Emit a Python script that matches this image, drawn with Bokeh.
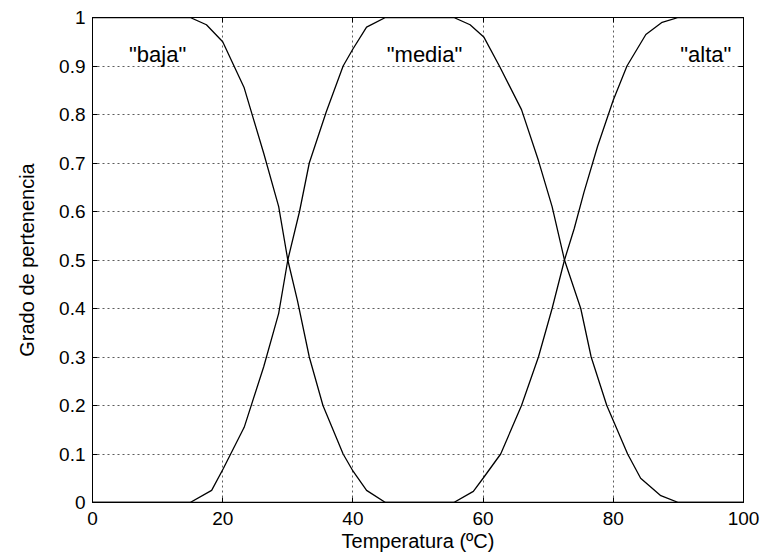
from bokeh.plotting import figure
from bokeh.models import Range1d, LinearAxis, FixedTicker, ColumnDataSource
from bokeh.core.properties import value
from bokeh.embed import file_html
from bokeh.resources import INLINE

# Data
baja_x = [0, 15, 17.5, 20, 23.3, 26.3, 28.6, 30, 31.5, 33.3, 35.4, 38.5, 40, 42.1, 45, 100]
baja_y = [1, 1, 0.985, 0.95, 0.855, 0.72, 0.61, 0.5, 0.415, 0.30, 0.20, 0.10, 0.065, 0.025, 0, 0]

media_x = [0, 15, 18.3, 20.1, 23.3, 26.3, 28.6, 30, 31.8, 33.3, 35.9, 38.5, 40, 42.1, 45,
           55.5, 58, 60.1, 62.5, 65.9, 68.5, 70.6, 72.5, 75, 76.6, 79, 82.2, 84.2, 87.3, 90, 100]
media_y = [0, 0, 0.025, 0.07, 0.155, 0.28, 0.39, 0.5, 0.60, 0.70, 0.805, 0.90, 0.935, 0.98, 1,
           1, 0.985, 0.96, 0.90, 0.81, 0.705, 0.61, 0.5, 0.40, 0.30, 0.20, 0.10, 0.05, 0.014, 0, 0]

alta_x = [0, 55.5, 58.5, 60, 62.7, 65.9, 68.5, 70.6, 72.5, 74, 75.5, 77.6, 80, 82.1, 85, 87.5, 90, 100]
alta_y = [0, 0, 0.023, 0.05, 0.10, 0.20, 0.30, 0.40, 0.5, 0.565, 0.64, 0.735, 0.83, 0.90, 0.965, 0.99, 1, 1]

label_text = ['"baja"', '"media"', '"alta"']
label_x = [10, 51, 94.2]
label_y = [0.924, 0.924, 0.924]

x_ticks = [0, 20, 40, 60, 80, 100]
y_ticks = [0, 0.1, 0.2, 0.3, 0.4, 0.5, 0.6, 0.7, 0.8, 0.9, 1]
y_tick_labels = {0: "0", 1: "1"}

FONT = "Liberation Sans"

p = figure(width=765, height=559, output_backend="svg", toolbar_location=None,
           x_range=Range1d(0, 100), y_range=Range1d(0, 1),
           min_border_left=92, min_border_right=22, min_border_top=17, min_border_bottom=57)

p.background_fill_color = "white"
p.border_fill_color = "white"
p.outline_line_color = "black"
p.outline_line_width = 1

# axes
p.xaxis.ticker = FixedTicker(ticks=x_ticks)
p.yaxis.ticker = FixedTicker(ticks=y_ticks)
p.yaxis.major_label_overrides = y_tick_labels
for ax in [p.xaxis[0], p.yaxis[0]]:
    ax.major_tick_in = 5
    ax.major_tick_out = 0
    ax.minor_tick_in = 0
    ax.minor_tick_out = 0
    ax.axis_line_color = "black"
    ax.major_tick_line_color = "black"
    ax.major_label_text_font = FONT
    ax.major_label_text_font_size = "19px"
    ax.major_label_text_color = "black"
    ax.axis_label_text_font = FONT
    ax.axis_label_text_font_size = "20px"
    ax.axis_label_text_font_style = "normal"
    ax.axis_label_text_color = "black"

p.xaxis.axis_label = "Temperatura (ºC)"
p.yaxis.axis_label = "Grado de pertenencia"
p.xaxis.major_label_standoff = 9
p.xaxis.axis_label_standoff = 2
p.yaxis.major_label_standoff = 7
p.yaxis.axis_label_standoff = 18

top = LinearAxis(ticker=FixedTicker(ticks=x_ticks), major_tick_in=5, major_tick_out=0,
                 minor_tick_in=0, minor_tick_out=0, major_label_text_font_size="0px",
                 major_label_standoff=0, axis_line_color="black")
right = LinearAxis(ticker=FixedTicker(ticks=y_ticks), major_tick_in=5, major_tick_out=0,
                   minor_tick_in=0, minor_tick_out=0, major_label_text_font_size="0px",
                   major_label_standoff=0, axis_line_color="black")
p.add_layout(top, "above")
p.add_layout(right, "right")

# grid
p.xgrid.ticker = FixedTicker(ticks=x_ticks)
p.ygrid.ticker = FixedTicker(ticks=y_ticks)
for g in [p.xgrid[0], p.ygrid[0]]:
    g.grid_line_color = "#333333"
    g.grid_line_dash = "2 3"
    g.grid_line_width = 1
    g.grid_line_alpha = 0.8

# curves
p.line(baja_x, baja_y, line_color="black", line_width=1.3)
p.line(media_x, media_y, line_color="black", line_width=1.3)
p.line(alta_x, alta_y, line_color="black", line_width=1.3)

src = ColumnDataSource(dict(x=label_x, y=label_y, t=label_text))
p.text(x="x", y="y", text="t", source=src, text_font=value(FONT), text_font_size="22px",
       text_align="center", text_baseline="alphabetic", text_color="black")

open("out.html", "w").write(file_html(p, INLINE))
